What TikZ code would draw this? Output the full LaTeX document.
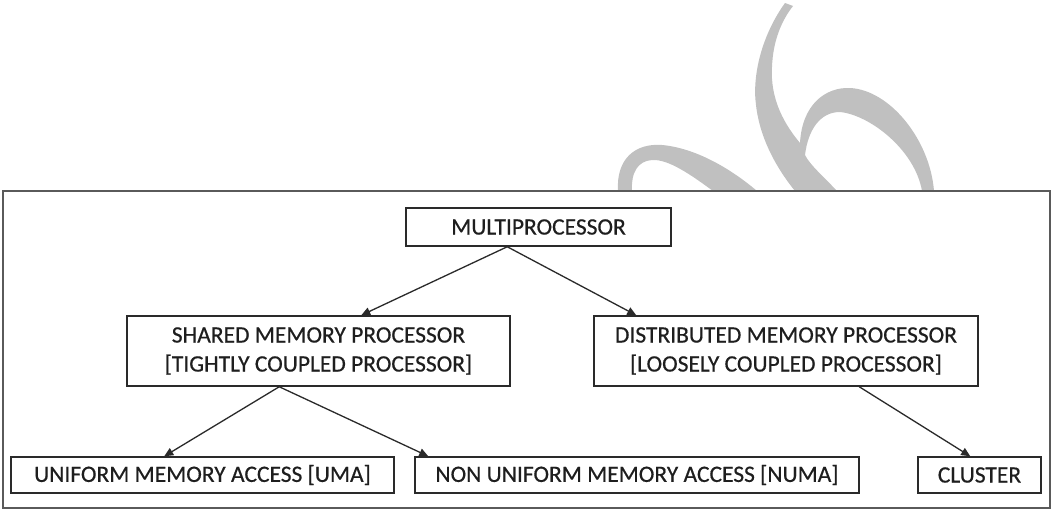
\documentclass[tikz,border=0pt]{standalone}
\usepackage{fontspec}
\setmainfont[FakeBold=0.5]{Carlito}
\usetikzlibrary{arrows.meta}
\definecolor{wmgrey}{HTML}{C0C0C0}
\definecolor{framegrey}{HTML}{5A5A5A}
\definecolor{boxline}{HTML}{2A2A2A}
\definecolor{inkc}{HTML}{1E1E1E}
\tikzset{
  box/.style={draw=boxline, line width=1.5pt, inner sep=0pt, align=center,
    text=inkc, font=\fontsize{23.5}{29}\selectfont},
  link/.style={draw=boxline, line width=1.3pt,
    -{Triangle[length=9pt,width=8pt]}},
  wm/.style={fill=wmgrey}
}
\begin{document}
\begin{tikzpicture}[x=1pt, y=-1pt]
  \fill[white] (0,0) rectangle (1053,509);
  \useasboundingbox (0,0) rectangle (1053,509);

  % grey swirl above the frame
  \fill[wm] (618,191) .. controls (616,158) and (636,143) .. (662,145)
    .. controls (695,148) and (730,168) .. (757,191) -- (713,191)
    .. controls (690,174) and (668,159) .. (652,160)
    .. controls (638,161) and (631,172) .. (632,191) -- cycle;
  \fill[wm] (785,3) .. controls (762,35) and (752,75) .. (756,105)
    .. controls (760,140) and (778,170) .. (795,191) -- (837,191)
    .. controls (822,175) and (810,165) .. (805,155)
    .. controls (808,130) and (820,112) .. (840,112)
    .. controls (870,115) and (915,150) .. (922,191) -- (934,191)
    .. controls (930,140) and (890,90) .. (850,88)
    .. controls (825,87) and (802,105) .. (800,143)
    .. controls (785,125) and (770,100) .. (772,67)
    .. controls (773,40) and (782,20) .. (793,6) -- cycle;

  % outer frame
  \draw[framegrey, line width=1.5pt] (3,191) rectangle (1050,508);

  % boxes
  \node[box, minimum width=265pt, minimum height=38pt] (multi) at (538.5,227) {MULTIPROCESSOR};
  \node[box, minimum width=383pt, minimum height=70pt] (shared) at (318.5,351)
    {SHARED MEMORY PROCESSOR\\{[}TIGHTLY COUPLED PROCESSOR]};
  \node[box, minimum width=384pt, minimum height=70pt] (dist) at (786,351)
    {DISTRIBUTED MEMORY PROCESSOR\\{[}LOOSELY COUPLED PROCESSOR]};
  \node[box, minimum width=383pt, minimum height=36pt] (uma) at (202.5,475) {UNIFORM MEMORY ACCESS [UMA]};
  \node[box, minimum width=444pt, minimum height=36pt] (numa) at (637,475) {NON UNIFORM MEMORY ACCESS [NUMA]};
  \node[box, minimum width=123pt, minimum height=36pt] (cluster) at (979.5,475) {CLUSTER};

  % connectors
  \draw[link] ([xshift=102pt]multi.south west) -- ([xshift=235pt]shared.north west);
  \draw[link] ([xshift=102pt]multi.south west) -- ([xshift=43pt]dist.north west);
  \draw[link] ([xshift=153pt]shared.south west) -- ([xshift=154pt]uma.north west);
  \draw[link] ([xshift=153pt]shared.south west) -- ([xshift=14pt]numa.north west);
  \draw[link] ([xshift=266pt]dist.south west) -- ([xshift=53pt]cluster.north west);
\end{tikzpicture}
\end{document}
